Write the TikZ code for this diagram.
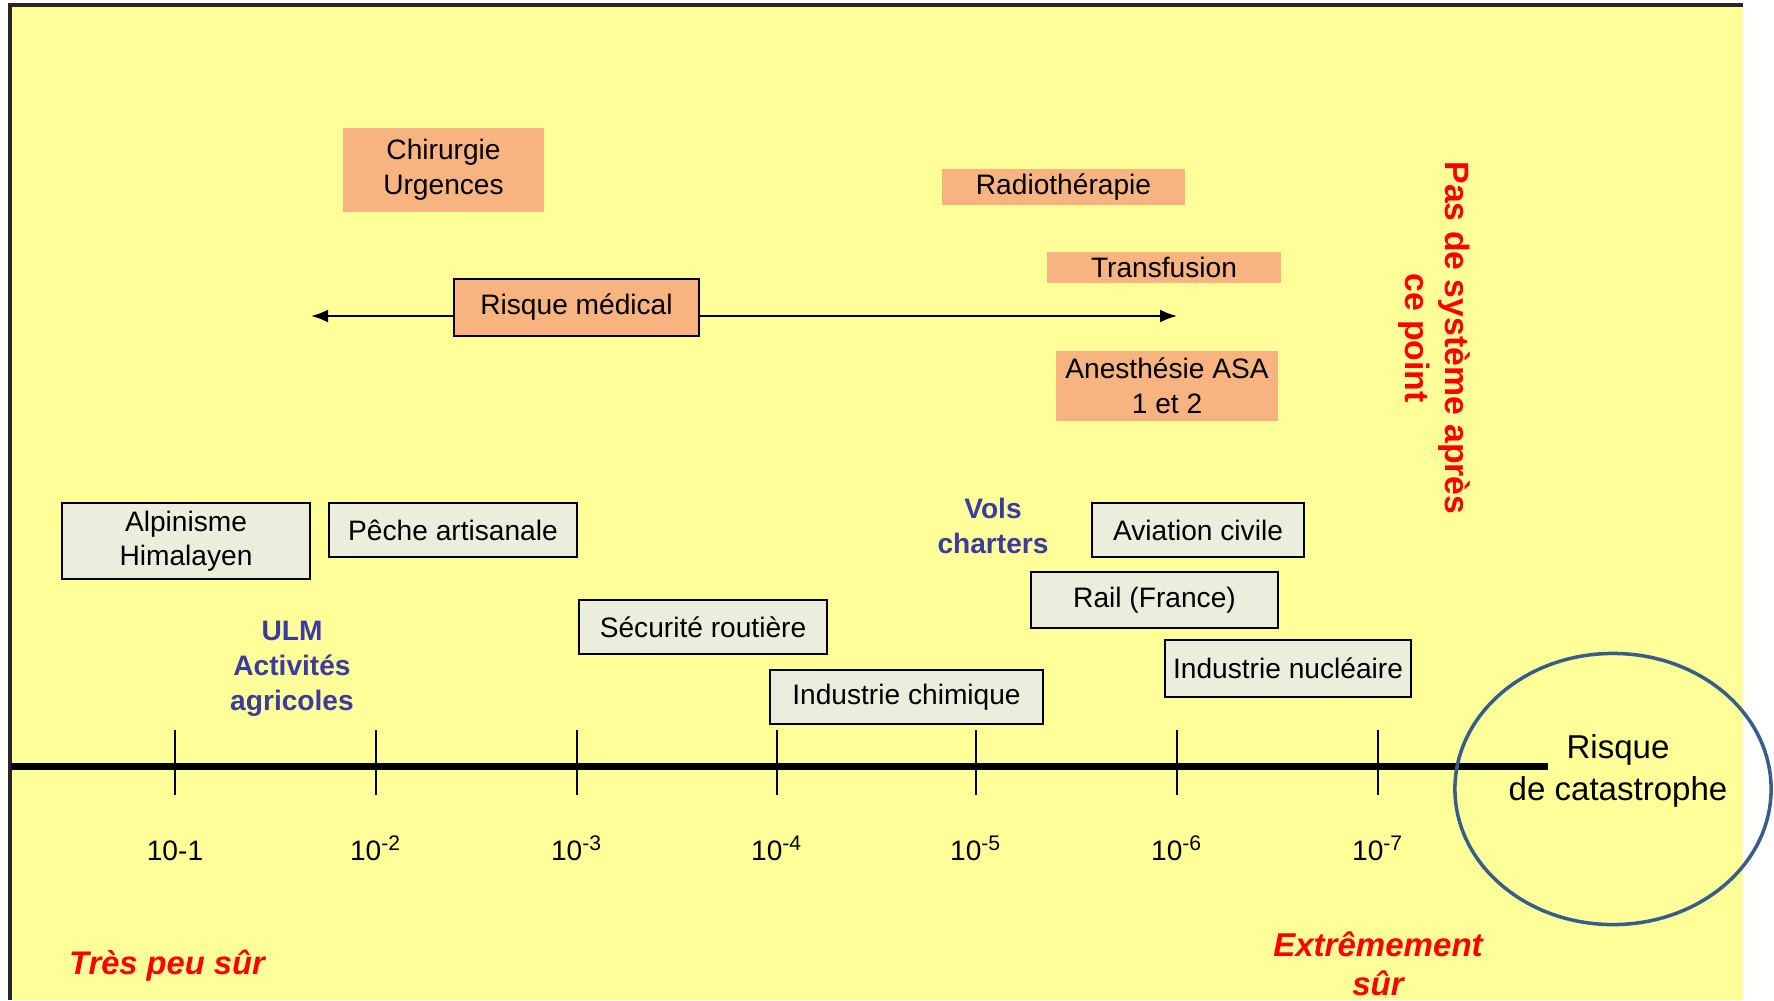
\documentclass[tikz,border=0pt]{standalone}
\usepackage{fontspec}
\setmainfont{Liberation Sans}
\usetikzlibrary{arrows.meta, shapes, positioning, calc}

\definecolor{bgyellow}{HTML}{FFFF99}
\definecolor{salmon}{HTML}{F8B480}
\definecolor{boxgray}{HTML}{EBEEDC}
\definecolor{textblue}{HTML}{3B3BA0}
\definecolor{circleblue}{HTML}{385D8A}

\begin{document}
\begin{tikzpicture}[x=0.01cm, y=-0.01cm,
    medical/.style={rectangle, fill=salmon, inner sep=0pt, text centered, align=center, font=\fontsize{8}{10}\selectfont},
    medframe/.style={medical, draw, line width=0.6pt},
    activity/.style={rectangle, draw, fill=boxgray, line width=0.6pt, inner sep=0pt, text centered, align=center, font=\fontsize{8}{9.7}\selectfont},
    bluetext/.style={text=textblue, font=\fontsize{8}{10}\selectfont\bfseries, align=center},
    redtext/.style={text=red, font=\fontsize{9.4}{11.2}\selectfont\bfseries, align=center},
    axistick/.style={line width=0.45pt},
    ticklabel/.style={font=\fontsize{8}{10}\selectfont, anchor=base},
    arrow/.style={-{Latex[length=1.7mm, width=1.3mm]}, semithick}, % filled tips
]
\useasboundingbox (0,0) rectangle (1774,1000);

% Background panel
\fill[bgyellow] (10,5) rectangle (1743,1000);
\draw[line width=1pt, black!85] (10,1000) -- (10,5) -- (1743,5);

% Medical risks
\node[medical, minimum width=20.1mm, minimum height=8.4mm] (chirurgie) at (443.5,170) {Chirurgie\\Urgences};
\node[medical, minimum width=24.3mm, minimum height=3.6mm] (radio) at (1063.5,187) {Radiothérapie};
\node[medical, minimum width=23.4mm, minimum height=3.1mm] (transfusion) at (1164,267.5) {Transfusion};
\node[medframe, minimum width=24.5mm, minimum height=5.7mm] (risquemed) at (576.5,307.5) {Risque médical};
\node[medical, minimum width=22.2mm, minimum height=7mm] (anesthesie) at (1167,386) {Anesthésie ASA\\1 et 2};

% Range of the medical risk
\coordinate (medleft) at (311,316);
\coordinate (medright) at (1177,316);
\draw[arrow] (medleft -| risquemed.west) -- (medleft);
\draw[arrow] (medright -| risquemed.east) -- (medright);

% Other activities
\node[activity, minimum width=24.8mm, minimum height=7.6mm] (alpinisme) at (186,541) {Alpinisme\\Himalayen};
\node[activity, minimum width=24.8mm, minimum height=5.4mm] (peche) at (453,530) {Pêche artisanale};
\node[activity, minimum width=24.8mm, minimum height=5.4mm] (routiere) at (703,627) {Sécurité routière};
\node[activity, minimum width=27.3mm, minimum height=5.4mm] (chimique) at (906.5,697) {Industrie chimique};
\node[activity, minimum width=21.2mm, minimum height=5.4mm] (aviation) at (1198,530) {Aviation civile};
\node[activity, minimum width=24.7mm, minimum height=5.6mm] (rail) at (1154.5,600) {Rail (France)};
\node[activity, minimum width=24.6mm, minimum height=5.7mm] (nucleaire) at (1288,668.5) {Industrie nucléaire};

\node[bluetext] (ulm) at (292,669) {ULM\\Activités\\agricoles};
\node[bluetext] (charters) at (993,526) {Vols\\charters};

% Scale of risk
\coordinate (axisstart) at (11,766);
\coordinate (axisend) at (1548,766);
\draw[line width=2pt] (axisstart) -- (axisend);
\draw[axistick] (175,730) -- (175,795);
\draw[axistick] (376,730) -- (376,795);
\draw[axistick] (577,730) -- (577,795);
\draw[axistick] (777,730) -- (777,795);
\draw[axistick] (976,730) -- (976,795);
\draw[axistick] (1177,730) -- (1177,795);
\draw[axistick] (1378,730) -- (1378,795);

\node[ticklabel] (e1) at (175,860) {10-1};
\node[ticklabel] (e2) at (376,860) {10\textsuperscript{-2}};
\node[ticklabel] (e3) at (577,860) {10\textsuperscript{-3}};
\node[ticklabel] (e4) at (777,860) {10\textsuperscript{-4}};
\node[ticklabel] (e5) at (976,860) {10\textsuperscript{-5}};
\node[ticklabel] (e6) at (1177,860) {10\textsuperscript{-6}};
\node[ticklabel] (e7) at (1378,860) {10\textsuperscript{-7}};

% Catastrophe zone
\node[ellipse, draw=circleblue, line width=1pt, minimum width=31.6mm, minimum height=27.1mm] (catzone) at (1613,789) {};
\node[font=\fontsize{9.4}{11.9}\selectfont, align=center] (catastrophe) at (1618,771) {Risque\\de catastrophe};

% Limits
\node[redtext, rotate=-90, font=\fontsize{9.6}{11.4}\selectfont\bfseries] (pasdesysteme) at (1434,338) {Pas de système après\\ce point};
\node[redtext, font=\fontsize{9.3}{11}\selectfont\bfseries\itshape] (peusur) at (167,966) {Très peu sûr};
\node[redtext, font=\fontsize{9.4}{11.1}\selectfont\bfseries\itshape] (extreme) at (1378,964) {Extrêmement\\sûr};

\end{tikzpicture}
\end{document}
